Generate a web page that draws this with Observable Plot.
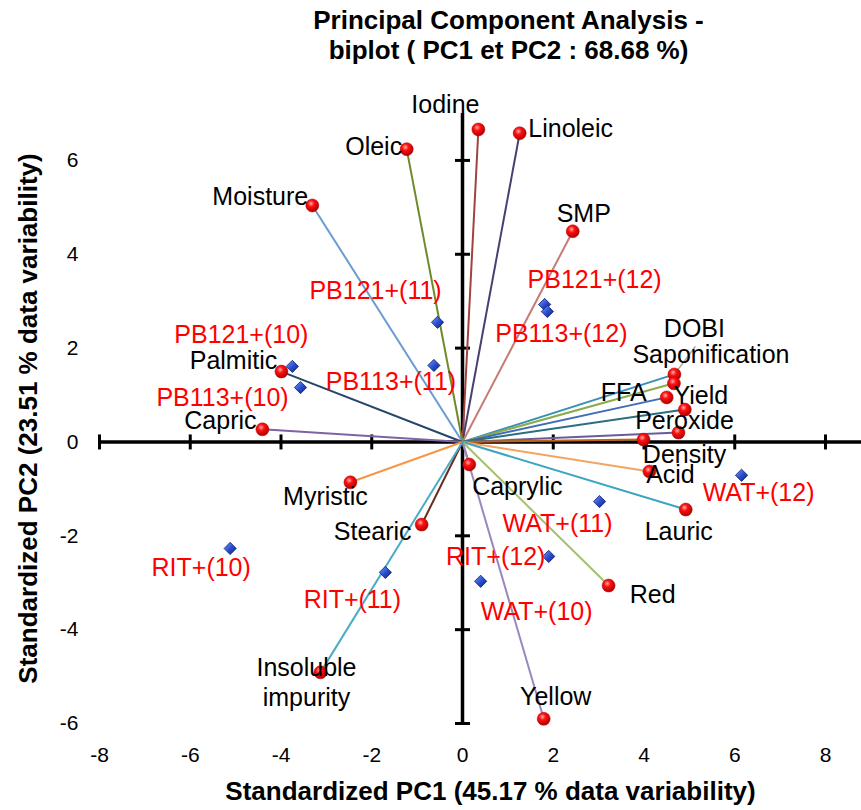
<!DOCTYPE html>
<html><head><meta charset="utf-8">
<script src="https://cdn.jsdelivr.net/npm/d3@7"></script>
<script src="https://cdn.jsdelivr.net/npm/@observablehq/plot@0.6"></script>
<style>body{margin:0;background:#fff}</style>
</head><body><div id="chart"></div>
<script>
// ---- data ----
const variables = ["Iodine","Linoleic","Oleic","Moisture","SMP","DOBI","Saponification","FFA","Yield","Peroxide","Density","Acid","Lauric","Caprylic","Red","Yellow","Palmitic","Capric","Myristic","Stearic","Insoluble\nimpurity"];
const varPC1 = [0.35,1.26,-1.23,-3.31,2.43,4.67,4.66,4.50,4.90,4.76,3.99,4.12,4.92,0.15,3.22,1.79,-3.99,-4.41,-2.47,-0.90,-3.13];
const varPC2 = [6.66,6.58,6.24,5.04,4.49,1.44,1.25,0.95,0.69,0.20,0.05,-0.63,-1.44,-0.48,-3.06,-5.90,1.50,0.27,-0.86,-1.76,-4.91];

const observations = ["PB121+(10)","PB113+(10)","PB121+(11)","PB113+(11)","PB121+(12)","PB113+(12)","RIT+(10)","RIT+(11)","RIT+(12)","WAT+(10)","WAT+(11)","WAT+(12)"];
const obsPC1 = [-3.75,-3.57,-0.55,-0.63,1.81,1.87,-5.12,-1.70,1.90,0.40,3.02,6.15];
const obsPC2 = [1.61,1.16,2.55,1.63,2.93,2.78,-2.27,-2.78,-2.44,-2.97,-1.27,-0.71];

const xTicks = [-8,-6,-4,-2,0,2,4,6,8];
const yTicks = [-6,-4,-2,0,2,4,6];

const chartTitle = "Principal Component Analysis -\nbiplot ( PC1 et PC2 : 68.68 %)";
const xTitle = "Standardized PC1 (45.17 % data variability)";
const yTitle = "Standardized PC2 (23.51 % data variability)";

// ---- styles (kept apart from data) ----
const vectorColor = {
  "Iodine":"#a0423f","Linoleic":"#4b3f72","Oleic":"#6e8a2c","Moisture":"#6b9bd1","SMP":"#c47c74",
  "DOBI":"#3a90b0","Saponification":"#8cac4c","FFA":"#3e6eb5","Yield":"#2b6e7e","Peroxide":"#6b5b9b",
  "Density":"#c0650f","Acid":"#f4a460","Lauric":"#3aa6c2","Caprylic":"#7d5fa0","Red":"#a4c06c",
  "Yellow":"#9a87c0","Palmitic":"#24466a","Capric":"#7d63a3","Myristic":"#f79646","Stearic":"#6b2a1e",
  "Insoluble\nimpurity":"#4bacc6"
};
const labelOffset = {
  "Iodine":[-33,-26],"Linoleic":[51,-6],"Oleic":[-33,-4],"Moisture":[-52,-10],"SMP":[11,-19],
  "DOBI":[20,-47],"Saponification":[37,-30],"FFA":[-43,-6],"Yield":[16,-15],"Peroxide":[6,-13],
  "Density":[41,14],"Acid":[21,2],"Lauric":[-7,21],"Caprylic":[48,21],"Red":[44,8],"Yellow":[12,-23],
  "Palmitic":[-48,-12],"Capric":[-42,-10],"Myristic":[-25,13],"Stearic":[-49,6],"Insoluble\nimpurity":[-14,9],
  "PB121+(10)":[-51,-31],"PB113+(10)":[-78,10],"PB121+(11)":[-62,-31],"PB113+(11)":[-43,17],
  "PB121+(12)":[50,-24],"PB113+(12)":[14,22],"RIT+(10)":[-29,20],"RIT+(11)":[-33,28],"RIT+(12)":[-53,1],
  "WAT+(10)":[56,31],"WAT+(11)":[-42,22],"WAT+(12)":[17,18]
};

const vars = variables.map((name, i) => ({name, x: varPC1[i], y: varPC2[i]}));
const obs = observations.map((name, i) => ({name, x: obsPC1[i], y: obsPC2[i]}));

const vTick = {draw(ctx){ ctx.moveTo(0,-7.5); ctx.lineTo(0,7.5); }};
const hTick = {draw(ctx){ ctx.moveTo(-7.5,0); ctx.lineTo(7.5,0); }};
const leader = {draw(ctx){ ctx.moveTo(0,0); ctx.lineTo(21,-28); }};

function defs() {
  const ns = "http://www.w3.org/2000/svg";
  const d = document.createElementNS(ns, "defs");
  d.innerHTML = `
    <radialGradient id="ball" cx="0.4" cy="0.35" r="0.7">
      <stop offset="0" stop-color="#ffb0b0"/>
      <stop offset="0.35" stop-color="#ff1010"/>
      <stop offset="1" stop-color="#a00000"/>
    </radialGradient>
    <linearGradient id="gem" x1="0" y1="0" x2="1" y2="1">
      <stop offset="0" stop-color="#7fa0ff"/>
      <stop offset="0.5" stop-color="#2b4fd0"/>
      <stop offset="1" stop-color="#0c1f80"/>
    </linearGradient>`;
  return d;
}

const font = "Liberation Sans, Arial, Helvetica, sans-serif";
const marks = [
  defs,
  // axes crossing at origin
  Plot.ruleY([0], {x1: -8, x2: 9, stroke: "black", strokeWidth: 3.5}),
  Plot.ruleX([0], {y1: -6, y2: 7, stroke: "black", strokeWidth: 3.5}),
  Plot.dot(xTicks.filter(d => d !== 0), {x: d => d, y: () => 0, symbol: vTick, fill: "none", stroke: "black", strokeWidth: 3}),
  Plot.dot(yTicks.filter(d => d !== 0), {x: () => 0, y: d => d, symbol: hTick, fill: "none", stroke: "black", strokeWidth: 3}),
  // variable vectors
  Plot.link(vars, {x1: () => 0, y1: () => 0, x2: "x", y2: "y", stroke: d => vectorColor[d.name], strokeWidth: 2}),
  Plot.dot(vars.filter(d => d.name === "DOBI"), {x: "x", y: "y", symbol: leader, fill: "none", stroke: "#a6a6a6", strokeWidth: 1.5}),
  Plot.dot(vars, {x: "x", y: "y", r: 6.5, fill: "url(#ball)", stroke: "#c00000", strokeWidth: 0.5}),
  Plot.dot(obs, {x: "x", y: "y", r: 5.5, symbol: "diamond2", fill: "url(#gem)", stroke: "#0a1a70", strokeWidth: 0.8}),
  ...vars.map(d => Plot.text([d], {x: "x", y: "y", text: "name", dx: labelOffset[d.name][0], dy: labelOffset[d.name][1], fontSize: 25, fill: "black", lineHeight: 1.2})),
  ...obs.map(d => Plot.text([d], {x: "x", y: "y", text: "name", dx: labelOffset[d.name][0], dy: labelOffset[d.name][1], fontSize: 25, fill: "#ff0000"})),
  // tick labels
  Plot.text(xTicks, {x: d => d, frameAnchor: "bottom", lineAnchor: "middle", dy: 32, text: d => String(d), fontSize: 21, fill: "black"}),
  Plot.text(yTicks, {y: d => d, frameAnchor: "left", textAnchor: "end", lineAnchor: "middle", dx: -21, text: d => String(d), fontSize: 21, fill: "black"}),
  // titles
  Plot.text([chartTitle], {frameAnchor: "top", lineAnchor: "middle", textAnchor: "middle", dx: 46, dy: -79, fontSize: 26, fontWeight: "bold", lineHeight: 1.15, fill: "black"}),
  Plot.text([xTitle], {frameAnchor: "bottom", lineAnchor: "middle", textAnchor: "middle", dx: 28, dy: 68, fontSize: 26, fontWeight: "bold", fill: "black"}),
  Plot.text([yTitle], {frameAnchor: "left", lineAnchor: "middle", textAnchor: "middle", dx: -71, rotate: -90, fontSize: 26, fontWeight: "bold", fill: "black"})
];

const chart = Plot.plot({
  width: 861,
  height: 810,
  marginLeft: 99,
  marginRight: 36,
  marginTop: 113,
  marginBottom: 87,
  x: {domain: [-8, 8], axis: null},
  y: {domain: [-6, 7], axis: null},
  color: {type: "identity"},
  style: {fontFamily: font, background: "white", overflow: "visible"},
  marks
});
document.getElementById("chart").appendChild(chart);
</script>
</body></html>
